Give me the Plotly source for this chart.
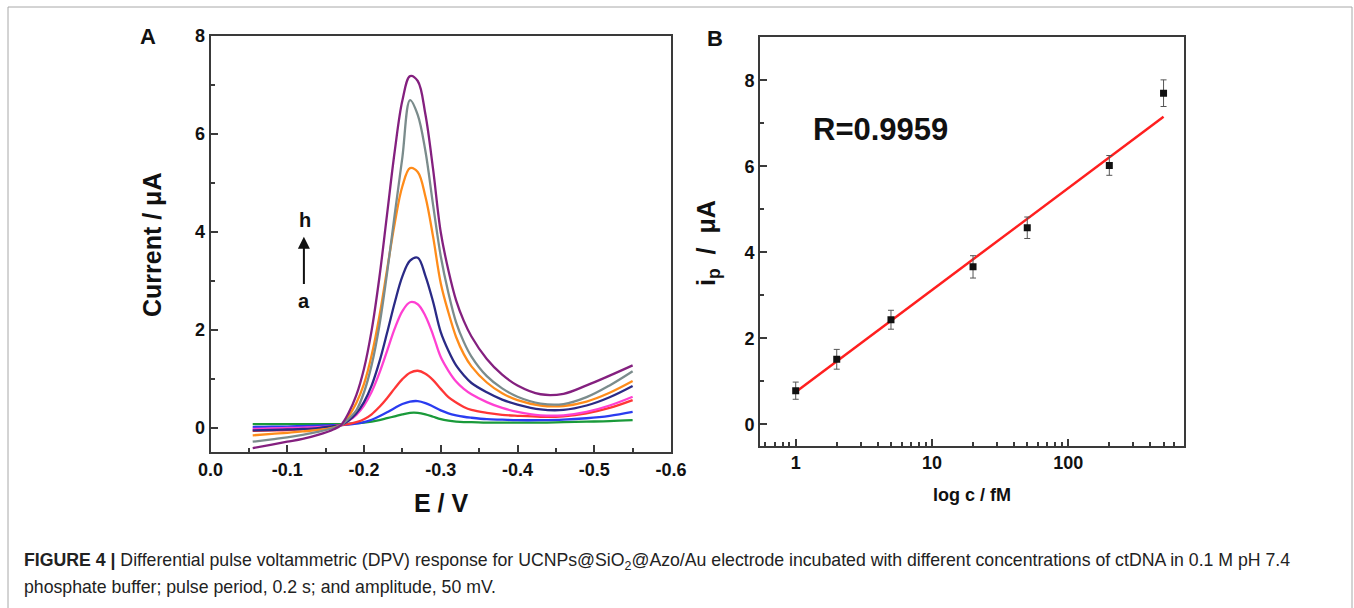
import plotly.graph_objects as go

# ---------------- Panel A data (DPV curves a..h) ----------------
E_V = [-0.055, -0.08, -0.10, -0.12, -0.14, -0.16, -0.17, -0.18, -0.19, -0.20,
       -0.21, -0.22, -0.23, -0.24, -0.25, -0.26, -0.27, -0.28, -0.29, -0.30,
       -0.31, -0.32, -0.33, -0.34, -0.36, -0.38, -0.40, -0.43, -0.46, -0.49,
       -0.52, -0.55]

curve_a = [0.07, 0.07, 0.07, 0.07, 0.07, 0.07, 0.07, 0.08, 0.09, 0.10,
           0.12, 0.15, 0.19, 0.23, 0.27, 0.30, 0.30, 0.27, 0.22, 0.17,
           0.14, 0.12, 0.11, 0.11, 0.10, 0.10, 0.10, 0.10, 0.11, 0.12,
           0.13, 0.15]
curve_b = [0.01, 0.02, 0.02, 0.03, 0.04, 0.05, 0.05, 0.06, 0.08, 0.11,
           0.16, 0.23, 0.31, 0.40, 0.48, 0.53, 0.54, 0.50, 0.43, 0.35,
           0.29, 0.25, 0.22, 0.20, 0.17, 0.16, 0.15, 0.15, 0.16, 0.19,
           0.24, 0.32]
curve_c = [-0.07, -0.06, -0.05, -0.03, -0.01, 0.03, 0.05, 0.07, 0.11, 0.17,
           0.27, 0.42, 0.60, 0.80, 0.99, 1.12, 1.16, 1.10, 0.97, 0.79,
           0.62, 0.51, 0.42, 0.36, 0.30, 0.26, 0.24, 0.22, 0.23, 0.29,
           0.40, 0.56]
curve_d = [-0.03, -0.02, -0.01, 0.00, 0.01, 0.03, 0.05, 0.14, 0.26, 0.45,
           0.73, 1.11, 1.56, 2.02, 2.38, 2.56, 2.52, 2.28, 1.89, 1.44,
           1.16, 0.94, 0.79, 0.68, 0.52, 0.40, 0.32, 0.25, 0.25, 0.32,
           0.45, 0.63]
curve_e = [-0.06, -0.05, -0.04, -0.03, -0.01, 0.03, 0.05, 0.14, 0.29, 0.52,
           0.86, 1.34, 1.93, 2.55, 3.09, 3.41, 3.47, 3.10, 2.57, 1.95,
           1.57, 1.27, 1.07, 0.91, 0.72, 0.57, 0.47, 0.37, 0.36, 0.45,
           0.62, 0.85]
curve_f = [-0.16, -0.13, -0.11, -0.08, -0.05, 0.00, 0.05, 0.23, 0.50, 0.89,
           1.48, 2.27, 3.22, 4.17, 4.93, 5.30, 5.22, 4.72, 3.90, 2.95,
           2.35, 1.85, 1.50, 1.25, 0.92, 0.70, 0.56, 0.45, 0.44, 0.53,
           0.71, 0.95]
curve_g = [-0.29, -0.24, -0.20, -0.15, -0.09, -0.01, 0.05, 0.18, 0.35, 0.72,
           1.28, 2.08, 3.15, 4.35, 5.52, 6.69, 6.39, 5.65, 4.55, 3.50,
           2.75, 2.15, 1.75, 1.45, 1.05, 0.80, 0.63, 0.49, 0.48, 0.62,
           0.86, 1.15]
curve_h = [-0.42, -0.35, -0.29, -0.23, -0.15, -0.04, 0.05, 0.30, 0.66, 1.20,
           1.99, 3.06, 4.35, 5.64, 6.68, 7.18, 7.08, 6.40, 5.28, 3.99,
           3.21, 2.60, 2.18, 1.86, 1.40, 1.08, 0.86, 0.68, 0.69, 0.86,
           1.06, 1.27]

curve_colors = ["#1a9a3a", "#2a3cf0", "#ff3636", "#ff40d2",
                "#2a2a86", "#ff8c1a", "#7b8c8c", "#84207f"]

A_xticks = [0.0, -0.1, -0.2, -0.3, -0.4, -0.5, -0.6]
A_xticktext = ["0.0", "-0.1", "-0.2", "-0.3", "-0.4", "-0.5", "-0.6"]
A_yticks = [0, 2, 4, 6, 8]

# ---------------- Panel B data (calibration) ----------------
conc_fM = [1, 2, 5, 20, 50, 200, 500]
ip_uA = [0.78, 1.51, 2.43, 3.66, 4.57, 6.02, 7.70]
ip_err = [0.20, 0.23, 0.22, 0.26, 0.25, 0.23, 0.31]
fit_x = [1, 500]
fit_y = [0.75, 7.15]
B_yticks = [0, 2, 4, 6, 8]

# ---------------- geometry helpers (pixels -> paper) ----------------
W, H = 1354, 608


def px(x):
    return x / W


def py(y):
    return 1 - y / H


FONT = "Liberation Sans, Arial, Helvetica, sans-serif"
AXC = "#3a3a3a"

fig = go.Figure()

curves = [curve_a, curve_b, curve_c, curve_d, curve_e, curve_f, curve_g, curve_h]
for name, vals, col in zip("abcdefgh", curves, curve_colors):
    fig.add_trace(go.Scatter(x=E_V, y=vals, mode="lines", name=name,
                             line=dict(color=col, width=2.3, shape="spline", smoothing=1.0),
                             xaxis="x", yaxis="y", showlegend=False))

fig.add_trace(go.Scatter(x=fit_x, y=fit_y, mode="lines",
                         line=dict(color="#ff1f1f", width=2.5),
                         xaxis="x2", yaxis="y2", showlegend=False))
fig.add_trace(go.Scatter(x=conc_fM, y=ip_uA, mode="markers",
                         marker=dict(symbol="square", size=7, color="#111"),
                         error_y=dict(type="data", array=ip_err, color="#555",
                                      thickness=1, width=3),
                         xaxis="x2", yaxis="y2", showlegend=False))

tickfont = dict(family=FONT, size=18, color="#111", weight="bold")
common = dict(showline=True, linecolor=AXC, linewidth=2, mirror=True,
              ticks="inside", ticklen=7, tickwidth=1.5, tickcolor=AXC,
              showgrid=False, zeroline=False, tickfont=tickfont,
              automargin=False)

fig.update_layout(
    width=W, height=H,
    margin=dict(l=0, r=0, t=0, b=0, pad=0, autoexpand=False),
    paper_bgcolor="white", plot_bgcolor="white",
    xaxis=dict(domain=[px(210.5), px(671)], range=[0, -0.6],
               tickvals=A_xticks, ticktext=A_xticktext,
               minor=dict(dtick=0.05, ticks="inside", ticklen=4, tickcolor=AXC),
               anchor="y", **common),
    yaxis=dict(domain=[py(452), py(36)], range=[-0.5, 8],
               tickvals=A_yticks,
               minor=dict(dtick=1, ticks="inside", ticklen=4, tickcolor=AXC),
               anchor="x", **common),
    xaxis2=dict(domain=[px(760), px(1184)], type="log",
                range=[-0.262, 2.849], dtick=1,
                minor=dict(dtick="D1", ticks="inside", ticklen=4, tickcolor=AXC),
                anchor="y2", **common),
    yaxis2=dict(domain=[py(445.7), py(37.3)], range=[-0.5, 9],
                tickvals=B_yticks,
                minor=dict(dtick=1, ticks="inside", ticklen=4, tickcolor=AXC),
                anchor="x2", **common),
)

ann = []


def label(text, x, y, size, angle=0, bold=True, xanchor="center", color="#111"):
    ann.append(dict(text=text, x=px(x), y=py(y), xref="paper", yref="paper",
                    showarrow=False, textangle=angle, xanchor=xanchor,
                    yanchor="middle",
                    font=dict(family=FONT, size=size, color=color,
                              weight="bold" if bold else "normal")))


label("A", 148, 36, 22)
label("B", 715, 38, 22)
label("Current / μA", 152, 245, 25, angle=-90)
label("E / V", 441, 503, 25)
label("i<sub>p</sub>\u00a0\u00a0/\u00a0\u00a0μA", 708, 243, 25, angle=-90)
label("log c / fM", 972, 495, 18)
label("R=0.9959", 880, 130, 31)
label("h", 305, 220, 20)
label("a", 304, 301, 20)

# arrow a -> h in panel A
ann.append(dict(x=-0.1217, y=3.90, ax=-0.1217, ay=2.90, xref="x", yref="y",
                axref="x", ayref="y", text="", showarrow=True, arrowhead=2,
                arrowsize=1.2, arrowwidth=2, arrowcolor="#111"))

label("<b>FIGURE 4 |</b> Differential pulse voltammetric (DPV) response for "
      "UCNPs@SiO<sub>2</sub>@Azo/Au electrode incubated with different "
      "concentrations of ctDNA in 0.1 M pH 7.4", 22, 561, 17.7, bold=False,
      xanchor="left", color="#222")
label("phosphate buffer; pulse period, 0.2 s; and amplitude, 50 mV.",
      22, 587, 17.7, bold=False, xanchor="left", color="#222")

fig.update_layout(annotations=ann)

fig.add_shape(type="rect", xref="paper", yref="paper",
              x0=px(8), x1=px(1352), y0=py(640), y1=py(7),
              line=dict(color="#a8a8a8", width=1), fillcolor="rgba(0,0,0,0)")

fig.write_html(
    "out.html",
    config={"displayModeBar": False},
    post_script=("document.body.style.margin='0';"
                 "document.body.style.overflow='hidden';"
                 "document.getElementById('{plot_id}').style.display='block';"),
)
